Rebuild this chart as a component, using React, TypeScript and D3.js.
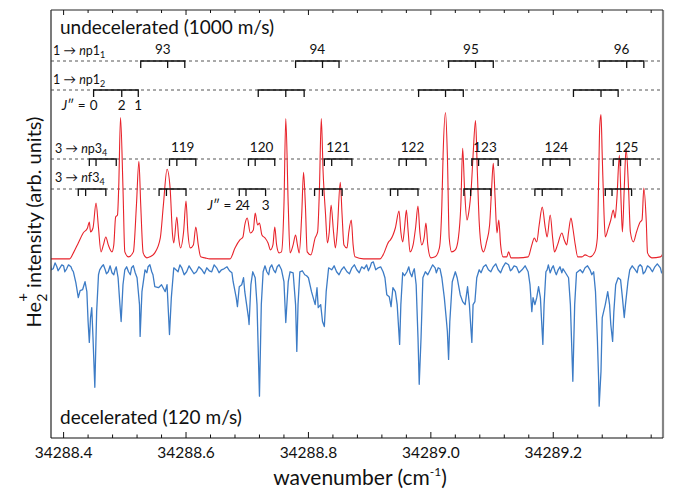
import React from 'react';
import * as d3 from 'd3';

// He2+ spectra, undecelerated vs decelerated beam, with Rydberg-series combs

const W = 678;
const H = 491;
const margin = { top: 10, right: 15, bottom: 53, left: 51 };
const FONT = 'Lato, "Liberation Sans", sans-serif';

const xDomain: [number, number] = [34288.3794, 34289.3793];
const yDomain: [number, number] = [0.1, 4.4];

const xTickValues = [34288.4, 34288.6, 34288.8, 34289.0, 34289.2];
const xTickLabels = ['34288.4', '34288.6', '34288.8', '34289.0', '34289.2'];
const minorTickStep = 0.04;

// undecelerated trace (1000 m/s), offset upwards
const undecelerated: [number, number][] = [
  [34288.378, 1.90], [34288.394, 1.90], [34288.410, 1.90], [34288.416, 1.96], [34288.424, 2.06],
  [34288.432, 2.16], [34288.439, 2.21], [34288.442, 2.27], [34288.444, 2.17], [34288.448, 2.21],
  [34288.453, 2.46], [34288.457, 2.21], [34288.461, 1.97], [34288.465, 2.04], [34288.469, 2.12],
  [34288.473, 2.04], [34288.479, 1.97], [34288.482, 2.04], [34288.485, 2.32], [34288.488, 2.34],
  [34288.490, 2.61], [34288.493, 3.32], [34288.497, 2.61], [34288.500, 1.97], [34288.506, 1.92],
  [34288.514, 1.97], [34288.519, 2.44], [34288.523, 2.88], [34288.526, 2.44], [34288.530, 1.96],
  [34288.536, 1.91], [34288.541, 1.92], [34288.549, 1.96], [34288.558, 2.11], [34288.563, 2.44],
  [34288.569, 2.80], [34288.574, 2.61], [34288.578, 2.14], [34288.580, 2.06], [34288.585, 2.32],
  [34288.588, 2.11], [34288.591, 2.01], [34288.596, 2.17], [34288.600, 2.48], [34288.603, 2.17],
  [34288.607, 2.01], [34288.612, 2.04], [34288.616, 2.22], [34288.620, 2.04], [34288.624, 1.92],
  [34288.631, 1.91], [34288.639, 1.90], [34288.656, 1.90], [34288.672, 1.90], [34288.680, 2.01],
  [34288.688, 2.09], [34288.693, 2.12], [34288.696, 2.24], [34288.700, 2.31], [34288.705, 2.16],
  [34288.710, 2.19], [34288.713, 2.36], [34288.717, 2.24], [34288.720, 2.26], [34288.724, 2.14],
  [34288.729, 2.11], [34288.734, 2.06], [34288.738, 1.99], [34288.742, 2.04], [34288.745, 2.22],
  [34288.748, 2.04], [34288.752, 1.96], [34288.756, 1.97], [34288.760, 2.44], [34288.763, 3.31],
  [34288.767, 2.44], [34288.770, 1.96], [34288.775, 2.04], [34288.779, 2.14], [34288.782, 2.04],
  [34288.785, 1.96], [34288.789, 2.34], [34288.792, 2.77], [34288.795, 2.44], [34288.798, 1.97],
  [34288.804, 1.94], [34288.811, 2.11], [34288.815, 2.17], [34288.818, 2.61], [34288.821, 3.31],
  [34288.824, 2.77], [34288.828, 2.34], [34288.831, 2.06], [34288.834, 2.17], [34288.837, 2.44],
  [34288.841, 2.17], [34288.844, 2.01], [34288.847, 2.17], [34288.852, 2.67], [34288.855, 2.34],
  [34288.858, 2.04], [34288.863, 2.01], [34288.866, 2.17], [34288.870, 2.29], [34288.873, 2.04],
  [34288.876, 1.92], [34288.890, 1.90], [34288.904, 1.90], [34288.917, 1.90], [34288.922, 1.94],
  [34288.931, 2.07], [34288.934, 2.09], [34288.942, 2.21], [34288.948, 2.38], [34288.951, 2.17],
  [34288.954, 2.07], [34288.957, 2.21], [34288.960, 2.39], [34288.963, 2.17], [34288.966, 1.97],
  [34288.971, 2.04], [34288.975, 2.21], [34288.979, 2.43], [34288.982, 2.17], [34288.985, 2.04],
  [34288.989, 2.11], [34288.992, 2.26], [34288.995, 2.04], [34289.000, 1.91], [34289.007, 1.92],
  [34289.014, 2.01], [34289.018, 2.44], [34289.020, 2.94], [34289.024, 3.37], [34289.027, 2.94],
  [34289.030, 2.11], [34289.034, 1.97], [34289.040, 1.99], [34289.045, 2.11], [34289.049, 2.44],
  [34289.052, 3.01], [34289.055, 2.61], [34289.059, 2.29], [34289.062, 2.37], [34289.066, 2.61],
  [34289.069, 2.94], [34289.073, 3.29], [34289.076, 2.77], [34289.079, 2.27], [34289.083, 2.01],
  [34289.086, 1.97], [34289.091, 2.07], [34289.096, 2.24], [34289.099, 2.57], [34289.102, 2.86],
  [34289.105, 2.51], [34289.108, 2.16], [34289.111, 2.29], [34289.114, 2.04], [34289.118, 1.92],
  [34289.124, 1.92], [34289.127, 1.97], [34289.131, 1.91], [34289.143, 1.91], [34289.159, 1.92],
  [34289.165, 2.04], [34289.169, 2.11], [34289.173, 2.07], [34289.177, 2.24], [34289.182, 2.42],
  [34289.187, 2.21], [34289.190, 2.12], [34289.195, 2.34], [34289.199, 2.11], [34289.202, 1.97],
  [34289.207, 2.04], [34289.214, 2.16], [34289.218, 2.09], [34289.222, 2.04], [34289.225, 2.17],
  [34289.229, 2.31], [34289.232, 2.21], [34289.236, 2.04], [34289.240, 1.92], [34289.247, 1.92],
  [34289.252, 1.94], [34289.260, 1.92], [34289.268, 1.97], [34289.272, 2.11], [34289.274, 2.64],
  [34289.276, 3.24], [34289.278, 3.35], [34289.280, 2.94], [34289.283, 2.34], [34289.285, 2.12],
  [34289.290, 2.21], [34289.294, 2.29], [34289.298, 2.39], [34289.301, 2.31], [34289.304, 2.51],
  [34289.308, 2.94], [34289.311, 2.44], [34289.313, 2.17], [34289.316, 2.61], [34289.319, 3.01],
  [34289.323, 2.61], [34289.326, 2.17], [34289.331, 2.07], [34289.336, 2.17], [34289.342, 2.27],
  [34289.345, 2.29], [34289.348, 2.61], [34289.352, 2.27], [34289.354, 1.96], [34289.361, 1.91],
  [34289.375, 1.92], [34289.380, 1.96],
];

// decelerated trace (120 m/s), dips downward
const decelerated: [number, number][] = [
  [34288.378, 1.85], [34288.380, 1.79], [34288.383, 1.80], [34288.386, 1.86], [34288.389, 1.82],
  [34288.391, 1.78], [34288.394, 1.81], [34288.397, 1.84], [34288.400, 1.83], [34288.402, 1.77],
  [34288.405, 1.80], [34288.408, 1.84], [34288.412, 1.82], [34288.414, 1.79], [34288.416, 1.77],
  [34288.420, 1.66], [34288.424, 1.51], [34288.427, 1.58], [34288.431, 1.59], [34288.435, 1.67],
  [34288.438, 1.57], [34288.440, 1.27], [34288.442, 1.06], [34288.444, 1.31], [34288.446, 1.41],
  [34288.448, 1.11], [34288.451, 0.61], [34288.454, 1.37], [34288.457, 1.74], [34288.459, 1.79],
  [34288.462, 1.82], [34288.465, 1.84], [34288.468, 1.79], [34288.470, 1.75], [34288.473, 1.77],
  [34288.476, 1.83], [34288.479, 1.76], [34288.482, 1.74], [34288.484, 1.79], [34288.486, 1.82],
  [34288.489, 1.71], [34288.492, 1.44], [34288.494, 1.27], [34288.497, 1.64], [34288.500, 1.79],
  [34288.503, 1.82], [34288.506, 1.77], [34288.509, 1.74], [34288.511, 1.81], [34288.514, 1.83],
  [34288.517, 1.76], [34288.520, 1.71], [34288.524, 1.44], [34288.525, 1.12], [34288.528, 1.57],
  [34288.533, 1.79], [34288.536, 1.76], [34288.538, 1.82], [34288.541, 1.84], [34288.544, 1.77],
  [34288.546, 1.74], [34288.549, 1.62], [34288.555, 1.61], [34288.560, 1.64], [34288.566, 1.57],
  [34288.569, 1.64], [34288.573, 1.14], [34288.576, 1.51], [34288.580, 1.81], [34288.587, 1.77],
  [34288.590, 1.84], [34288.593, 1.81], [34288.597, 1.74], [34288.601, 1.77], [34288.605, 1.83],
  [34288.609, 1.79], [34288.613, 1.75], [34288.617, 1.77], [34288.621, 1.82], [34288.626, 1.79],
  [34288.630, 1.75], [34288.634, 1.81], [34288.638, 1.78], [34288.642, 1.77], [34288.646, 1.84],
  [34288.650, 1.81], [34288.654, 1.76], [34288.658, 1.79], [34288.662, 1.80], [34288.667, 1.82],
  [34288.671, 1.78], [34288.675, 1.76], [34288.677, 1.67], [34288.682, 1.51], [34288.684, 1.42],
  [34288.687, 1.62], [34288.691, 1.64], [34288.694, 1.71], [34288.696, 1.57], [34288.699, 1.44],
  [34288.702, 1.31], [34288.703, 1.24], [34288.706, 1.64], [34288.709, 1.77], [34288.713, 1.71],
  [34288.716, 1.44], [34288.720, 0.52], [34288.723, 1.44], [34288.726, 1.77], [34288.729, 1.83],
  [34288.732, 1.77], [34288.735, 1.74], [34288.737, 1.81], [34288.740, 1.84], [34288.743, 1.79],
  [34288.746, 1.76], [34288.749, 1.82], [34288.752, 1.84], [34288.756, 1.79], [34288.760, 1.67],
  [34288.763, 1.26], [34288.767, 1.67], [34288.770, 1.77], [34288.775, 1.76], [34288.779, 1.44],
  [34288.781, 0.97], [34288.783, 1.44], [34288.786, 1.77], [34288.790, 1.78], [34288.794, 1.74],
  [34288.797, 1.73], [34288.800, 1.71], [34288.805, 1.57], [34288.811, 1.44], [34288.814, 1.61],
  [34288.816, 1.41], [34288.820, 1.44], [34288.823, 1.27], [34288.826, 1.22], [34288.829, 1.57],
  [34288.833, 1.81], [34288.838, 1.79], [34288.842, 1.83], [34288.846, 1.77], [34288.850, 1.74],
  [34288.854, 1.79], [34288.858, 1.82], [34288.863, 1.77], [34288.867, 1.75], [34288.871, 1.81],
  [34288.875, 1.84], [34288.879, 1.79], [34288.883, 1.76], [34288.887, 1.82], [34288.891, 1.80],
  [34288.895, 1.84], [34288.898, 1.78], [34288.901, 1.82], [34288.903, 1.86], [34288.906, 1.87],
  [34288.910, 1.79], [34288.914, 1.81], [34288.918, 1.82], [34288.922, 1.77], [34288.925, 1.71],
  [34288.928, 1.54], [34288.932, 1.52], [34288.935, 1.42], [34288.938, 1.61], [34288.942, 1.57],
  [34288.945, 1.44], [34288.949, 1.04], [34288.951, 1.44], [34288.954, 1.76], [34288.957, 1.73],
  [34288.961, 1.77], [34288.964, 1.82], [34288.966, 1.76], [34288.969, 1.72], [34288.971, 1.77],
  [34288.973, 1.80], [34288.976, 1.64], [34288.979, 1.11], [34288.981, 0.64], [34288.984, 1.11],
  [34288.987, 1.71], [34288.991, 1.77], [34288.995, 1.74], [34288.999, 1.79], [34289.003, 1.84],
  [34289.007, 1.81], [34289.009, 1.76], [34289.012, 1.81], [34289.015, 1.80], [34289.018, 1.71],
  [34289.022, 1.51], [34289.025, 1.31], [34289.027, 1.17], [34289.029, 0.89], [34289.031, 1.27],
  [34289.035, 1.67], [34289.040, 1.77], [34289.043, 1.71], [34289.048, 1.54], [34289.052, 1.47],
  [34289.056, 1.44], [34289.060, 1.62], [34289.063, 1.44], [34289.065, 1.24], [34289.067, 1.06],
  [34289.069, 1.44], [34289.072, 1.47], [34289.075, 1.71], [34289.079, 1.79], [34289.082, 1.76],
  [34289.086, 1.82], [34289.090, 1.84], [34289.094, 1.79], [34289.098, 1.77], [34289.102, 1.82],
  [34289.106, 1.85], [34289.110, 1.79], [34289.114, 1.76], [34289.118, 1.82], [34289.122, 1.86],
  [34289.127, 1.84], [34289.130, 1.78], [34289.132, 1.79], [34289.136, 1.83], [34289.140, 1.82],
  [34289.144, 1.76], [34289.149, 1.79], [34289.154, 1.83], [34289.159, 1.77], [34289.162, 1.64],
  [34289.165, 1.37], [34289.167, 1.51], [34289.170, 1.44], [34289.173, 1.51], [34289.176, 1.62],
  [34289.179, 1.51], [34289.181, 1.27], [34289.183, 1.04], [34289.185, 1.44], [34289.188, 1.77],
  [34289.190, 1.79], [34289.192, 1.84], [34289.195, 1.76], [34289.198, 1.81], [34289.200, 1.83],
  [34289.203, 1.77], [34289.205, 1.74], [34289.208, 1.79], [34289.211, 1.82], [34289.214, 1.76],
  [34289.216, 1.80], [34289.219, 1.77], [34289.222, 1.74], [34289.225, 1.71], [34289.228, 1.44],
  [34289.232, 0.67], [34289.235, 1.44], [34289.238, 1.76], [34289.244, 1.79], [34289.248, 1.76],
  [34289.252, 1.81], [34289.256, 1.83], [34289.260, 1.79], [34289.263, 1.74], [34289.266, 1.77],
  [34289.269, 1.57], [34289.272, 1.11], [34289.274, 0.71], [34289.275, 0.42], [34289.278, 0.77],
  [34289.280, 1.31], [34289.285, 1.44], [34289.289, 1.57], [34289.292, 1.44], [34289.294, 1.24],
  [34289.297, 1.07], [34289.299, 1.37], [34289.302, 1.64], [34289.306, 1.71], [34289.310, 1.69],
  [34289.313, 1.51], [34289.316, 1.31], [34289.318, 1.44], [34289.322, 1.67], [34289.325, 1.79],
  [34289.329, 1.83], [34289.334, 1.79], [34289.337, 1.76], [34289.339, 1.82], [34289.342, 1.84],
  [34289.345, 1.82], [34289.347, 1.75], [34289.350, 1.77], [34289.354, 1.83], [34289.358, 1.81],
  [34289.362, 1.77], [34289.366, 1.82], [34289.370, 1.85], [34289.375, 1.81], [34289.377, 1.76],
  [34289.380, 1.79],
];

// combs: [J''=0, J''=2, J''=1] positions for each n (cm-1)
const np1_1Combs = [
  [34288.526, 34288.570, 34288.598],
  [34288.779, 34288.823, 34288.850],
  [34289.029, 34289.073, 34289.102],
  [34289.275, 34289.320, 34289.348],
];
const np1_1Labels = ['93', '94', '95', '96'];

const np1_2Combs = [
  [34288.449, 34288.495, 34288.522],
  [34288.718, 34288.763, 34288.793],
  [34288.980, 34289.024, 34289.053],
  [34289.233, 34289.278, 34289.306],
];
const np1_2Labels = ['', '', '', ''];

const np3_4Combs = [
  [34288.442, 34288.453, 34288.486],
  [34288.573, 34288.585, 34288.616],
  [34288.702, 34288.713, 34288.745],
  [34288.826, 34288.838, 34288.871],
  [34288.948, 34288.960, 34288.992],
  [34289.067, 34289.078, 34289.110],
  [34289.183, 34289.195, 34289.227],
  [34289.298, 34289.310, 34289.342],
];
const np3_4Labels = ['', '119', '120', '121', '122', '123', '124', '125'];

const nf3_4Combs = [
  [34288.424, 34288.436, 34288.469],
  [34288.556, 34288.568, 34288.600],
  [34288.687, 34288.698, 34288.730],
  [34288.810, 34288.823, 34288.855],
  [34288.934, 34288.946, 34288.979],
  [34289.054, 34289.065, 34289.098],
  [34289.170, 34289.182, 34289.214],
  [34289.285, 34289.296, 34289.328],
];

const jLabelsSinglet = ['0', '2', '1'];
const jLabelsTriplet = ['2', '4', '3'];

export default function App() {
  const x = d3.scaleLinear().domain(xDomain).range([margin.left, W - margin.right]);
  const y = d3.scaleLinear().domain(yDomain).range([H - margin.bottom, margin.top]);

  const x0 = margin.left;
  const x1 = W - margin.right;
  const y0 = H - margin.bottom;
  const yTop = margin.top;

  const redLine = d3.line<[number, number]>().x(d => x(d[0])).y(d => y(d[1])).curve(d3.curveMonotoneX);
  const blueLine = d3.line<[number, number]>().x(d => x(d[0])).y(d => y(d[1]));
  const redPath = redLine(undecelerated) || '';
  const bluePath = blueLine([...decelerated].sort((a, b) => a[0] - b[0])) || '';

  const minorTicks = d3.range(0, 26).map(i => 34288.4 + i * minorTickStep).filter(v => v <= xDomain[1]);

  // row layout (y in px)
  const rows = [
    { y: 61, combs: np1_1Combs, labels: np1_1Labels },
    { y: 90, combs: np1_2Combs, labels: np1_2Labels },
    { y: 159, combs: np3_4Combs, labels: np3_4Labels },
    { y: 189, combs: nf3_4Combs, labels: nf3_4Combs.map(() => '') },
  ];
  const tickLen = 7;

  const sub = (s: string) => (
    <tspan fontSize={9} dy={3}>{s}</tspan>
  );

  return (
    <svg width={W} height={H} style={{ position: 'absolute', left: 0, top: 0, background: '#fff' }}
      fontFamily={FONT}>
      <defs>
        <clipPath id="plotClip">
          <rect x={x0} y={yTop} width={x1 - x0} height={y0 - yTop} />
        </clipPath>
      </defs>

      {/* dashed guide lines */}
      {rows.map((r, i) => (
        <line key={'d' + i} x1={x0} x2={x1} y1={r.y} y2={r.y} stroke="#555" strokeWidth={1}
          strokeDasharray="3,3" />
      ))}

      {/* traces */}
      <g clipPath="url(#plotClip)">
        <path d={bluePath} fill="none" stroke="#3d7cc6" strokeWidth={1.3} strokeLinejoin="round" />
        <path d={redPath} fill="none" stroke="#e8232b" strokeWidth={1.1} strokeLinejoin="round" />
      </g>

      {/* combs */}
      {rows.map((r, i) => (
        <g key={'c' + i}>
          {r.combs.map((c, j) => {
            const a = x(c[0]);
            const m = x(c[1]);
            const b = x(c[2]);
            return (
              <g key={j}>
                <path d={`M${a},${r.y + tickLen}V${r.y}H${b}V${r.y + tickLen}M${m},${r.y}V${r.y + tickLen}`}
                  fill="none" stroke="#111" strokeWidth={1.3} />
                {r.labels[j] ? (
                  <text x={(a + b) / 2} y={r.y - 7} fontSize={13.5} textAnchor="middle" fill="#111">
                    {r.labels[j]}
                  </text>
                ) : null}
              </g>
            );
          })}
        </g>
      ))}

      {/* series labels */}
      <text x={53} y={55} fontSize={12.5} fill="#111">
        1 → <tspan fontStyle="italic">n</tspan>p1{sub('1')}
      </text>
      <text x={53} y={84} fontSize={12.5} fill="#111">
        1 → <tspan fontStyle="italic">n</tspan>p1{sub('2')}
      </text>
      <text x={55} y={153} fontSize={12.5} fill="#111">
        3 → <tspan fontStyle="italic">n</tspan>p3{sub('4')}
      </text>
      <text x={55} y={182} fontSize={12.5} fill="#111">
        3 → <tspan fontStyle="italic">n</tspan>f3{sub('4')}
      </text>

      {/* J'' labels */}
      <text x={x(np1_2Combs[0][0]) - 8} y={110} fontSize={13.5} textAnchor="end" fill="#111">
        <tspan fontStyle="italic">J</tspan>″ =
      </text>
      <text x={x(np1_2Combs[0][0])} y={110} fontSize={13.5} textAnchor="middle" fill="#111">{jLabelsSinglet[0]}</text>
      <text x={x(np1_2Combs[0][1])} y={110} fontSize={13.5} textAnchor="middle" fill="#111">{jLabelsSinglet[1]}</text>
      <text x={x(np1_2Combs[0][2])} y={110} fontSize={13.5} textAnchor="middle" fill="#111">{jLabelsSinglet[2]}</text>

      <text x={x(nf3_4Combs[2][0]) - 8} y={210} fontSize={13.5} textAnchor="end" fill="#111">
        <tspan fontStyle="italic">J</tspan>″ =
      </text>
      <text x={x(nf3_4Combs[2][0])} y={210} fontSize={13.5} textAnchor="middle" fill="#111">{jLabelsTriplet[0]}</text>
      <text x={x(nf3_4Combs[2][1])} y={210} fontSize={13.5} textAnchor="middle" fill="#111">{jLabelsTriplet[1]}</text>
      <text x={x(nf3_4Combs[2][2])} y={210} fontSize={13.5} textAnchor="middle" fill="#111">{jLabelsTriplet[2]}</text>

      {/* panel titles */}
      <text x={60} y={34} fontSize={19} fill="#111">undecelerated (1000 m/s)</text>
      <text x={60} y={424} fontSize={19} fill="#111">decelerated (120 m/s)</text>

      {/* frame */}
      <line x1={x1} x2={x1} y1={yTop} y2={y0} stroke="#858585" strokeWidth={2.2} />
      <line x1={x0} x2={x1} y1={yTop} y2={yTop} stroke="#222" strokeWidth={1} />
      <line x1={x0} x2={x0} y1={yTop} y2={y0} stroke="#333" strokeWidth={1.3} />
      <line x1={x0} x2={x1} y1={y0} y2={y0} stroke="#111" strokeWidth={1.2} />

      {/* ticks */}
      {minorTicks.map((v, i) => {
        const isMajor = xTickValues.some(t => Math.abs(t - v) < 1e-6);
        const px = x(v);
        return (
          <g key={'t' + i}>
            <line x1={px} x2={px} y1={y0} y2={y0 - (isMajor ? 6 : 3.5)} stroke="#111" strokeWidth={1} />
            <line x1={px} x2={px} y1={yTop} y2={yTop + (isMajor ? 5 : 3)} stroke="#111" strokeWidth={1} />
          </g>
        );
      })}
      {xTickValues.map((v, i) => (
        <text key={'l' + i} x={x(v)} y={y0 + 20} fontSize={15.5} textAnchor="middle" fill="#111">
          {xTickLabels[i]}
        </text>
      ))}

      {/* axis titles */}
      <text x={360} y={485} fontSize={21} textAnchor="middle" fill="#111">
        wavenumber (cm<tspan fontSize={12} dy={-9}>-1</tspan><tspan dy={9}>)</tspan>
      </text>
      <text transform={`translate(41,222) rotate(-90)`} fontSize={20} textAnchor="middle" fill="#111">
        He<tspan fontSize={14} dy={6}>2</tspan>
        <tspan fontSize={15} dx={-8} dy={-19}>+</tspan>
        <tspan dy={13}> intensity (arb. units)</tspan>
      </text>
    </svg>
  );
}
